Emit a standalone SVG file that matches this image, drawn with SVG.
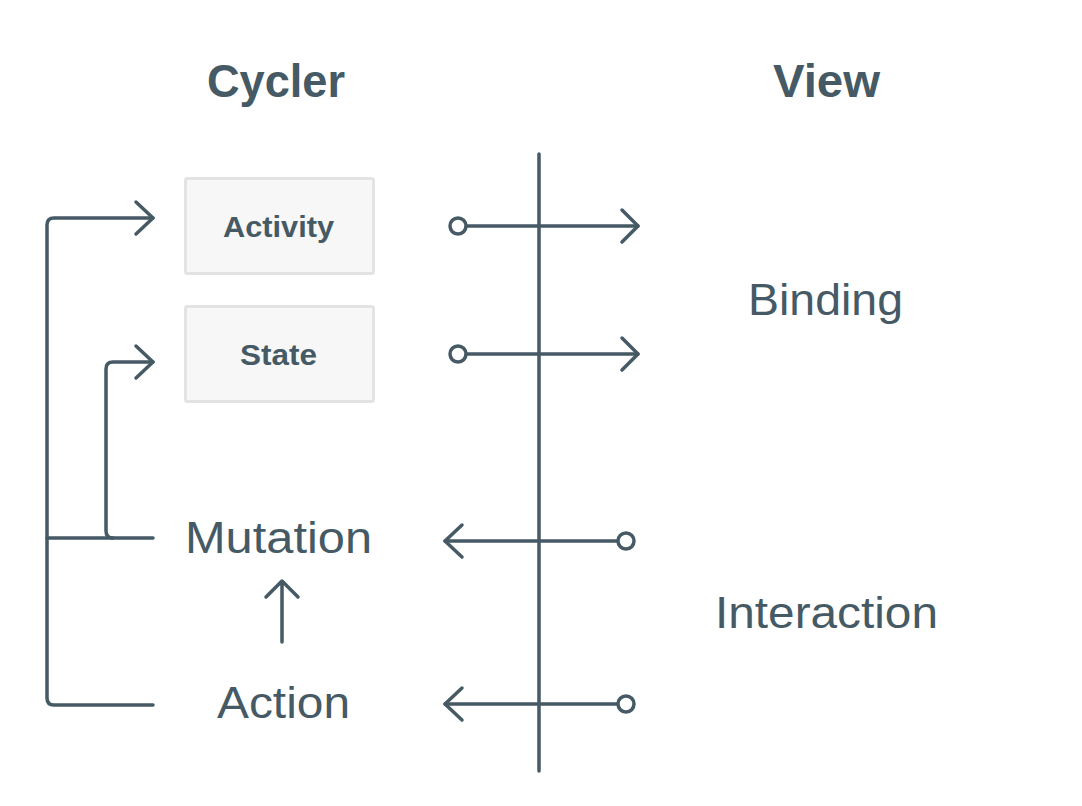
<svg xmlns="http://www.w3.org/2000/svg" width="1082" height="806" viewBox="0 0 1082 806">
<style>
.ln{fill:none;stroke:#455A64;stroke-width:3.5;stroke-linecap:round;stroke-linejoin:round}
.dot{fill:#ffffff;stroke:#455A64;stroke-width:3.5}
.box{fill:#f7f7f7;stroke:#e3e3e3;stroke-width:3}
.t{font-family:"Liberation Sans",Arial,sans-serif;fill:#455A64;text-anchor:middle}
.b{font-weight:bold}
</style>
<rect width="1082" height="806" fill="#ffffff"/>
<text class="t b" x="276" y="97" font-size="46" textLength="138" lengthAdjust="spacingAndGlyphs">Cycler</text>
<text class="t b" x="826.5" y="97" font-size="46" textLength="107" lengthAdjust="spacingAndGlyphs">View</text>
<g id="activity"><rect class="box" x="185.5" y="178.5" width="188" height="95" rx="2"/><text class="t b" x="278.5" y="237" font-size="29" textLength="111" lengthAdjust="spacingAndGlyphs">Activity</text></g>
<g id="state"><rect class="box" x="185.5" y="306.5" width="188" height="95" rx="2"/><text class="t b" x="278.5" y="365" font-size="29" textLength="77" lengthAdjust="spacingAndGlyphs">State</text></g>
<g id="mutation"><text class="t" x="278.5" y="553" font-size="44" textLength="187" lengthAdjust="spacingAndGlyphs">Mutation</text></g>
<g id="action"><text class="t" x="283.5" y="718" font-size="44" textLength="133" lengthAdjust="spacingAndGlyphs">Action</text></g>
<g id="binding"><text class="t" x="825.5" y="315" font-size="44" textLength="155" lengthAdjust="spacingAndGlyphs">Binding</text></g>
<g id="interaction"><text class="t" x="826.5" y="628" font-size="44" textLength="223" lengthAdjust="spacingAndGlyphs">Interaction</text></g>
<g id="connectors">
<line class="ln" x1="539" y1="154" x2="539" y2="771"/>
<path class="ln" d="M153 705 H54 Q47 705 47 698 V225 Q47 218 54 218 H153"/>
<path class="ln" d="M136 202 L153 218 L136 234"/>
<path class="ln" d="M47 538 H153"/>
<path class="ln" d="M113 538 Q106 538 106 531 V369 Q106 362 113 362 H153"/>
<path class="ln" d="M136 346 L153 362 L136 378"/>
<path class="ln" d="M282 642 V581 M266 597 L282 581 L298 597"/>
<line class="ln" x1="466" y1="226" x2="638" y2="226"/>
<path class="ln" d="M622 210 L638 226 L622 242"/>
<circle class="dot" cx="458" cy="226" r="8"/>
<line class="ln" x1="466" y1="354" x2="638" y2="354"/>
<path class="ln" d="M622 338 L638 354 L622 370"/>
<circle class="dot" cx="458" cy="354" r="8"/>
<line class="ln" x1="445" y1="541" x2="618" y2="541"/>
<path class="ln" d="M462 525 L445 541 L462 557"/>
<circle class="dot" cx="626" cy="541" r="8"/>
<line class="ln" x1="445" y1="704" x2="618" y2="704"/>
<path class="ln" d="M462 688 L445 704 L462 720"/>
<circle class="dot" cx="626" cy="704" r="8"/>
</g>
</svg>
